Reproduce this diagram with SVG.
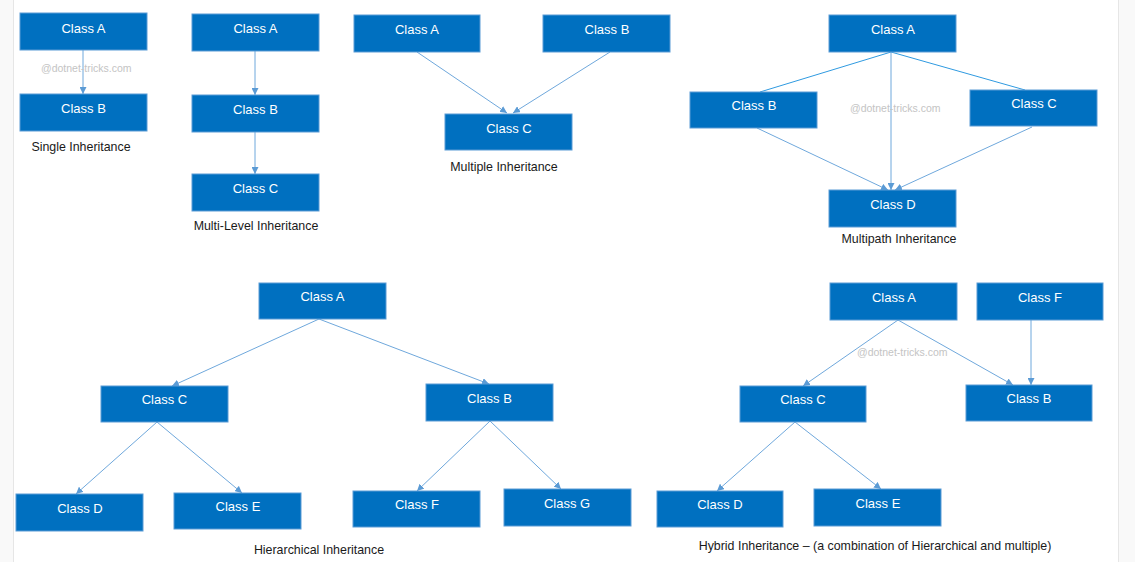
<svg xmlns="http://www.w3.org/2000/svg" width="1135" height="562" viewBox="0 0 1135 562">
<style>
.box{fill:#0070c0;stroke:#5b9bd5;stroke-width:1}
.lbl{font-family:"Liberation Sans",Arial,sans-serif;font-size:13px;fill:#ffffff;text-anchor:middle}
.cap{font-family:"Liberation Sans",Arial,sans-serif;font-size:12.4px;fill:#1a1a1a;text-anchor:middle}
.wm{font-family:"Liberation Sans",Arial,sans-serif;font-size:10.5px;fill:#c4c4c4}
.ln{stroke:#6fa8dc;stroke-width:1;fill:none;marker-end:url(#ah)}
.ln2{stroke:#2f9ae0;stroke-width:1;fill:none}
</style>
<defs>
<marker id="ah" viewBox="0 0 10 10" refX="10" refY="5" markerWidth="7" markerHeight="7" markerUnits="userSpaceOnUse" orient="auto">
<path d="M0,0 L10,5 L0,10 z" fill="#5b9bd5"/>
</marker>
</defs>
<rect x="0" y="0" width="1135" height="562" fill="#ffffff"/>
<rect x="0" y="0" width="13" height="562" fill="#f9f9f9"/>
<rect x="1118" y="0" width="17" height="562" fill="#f9f9f9"/>
<line x1="13.5" y1="0" x2="13.5" y2="562" stroke="#e6e6e6"/>
<line x1="1118.5" y1="0" x2="1118.5" y2="562" stroke="#e6e6e6"/>

<g id="connectors">
<line class="ln" x1="83" y1="50" x2="83" y2="94"/>
<line class="ln" x1="255" y1="51" x2="255" y2="95"/>
<line class="ln" x1="255" y1="132" x2="255" y2="174"/>
<line class="ln" x1="417" y1="52" x2="507" y2="113"/>
<line class="ln" x1="610" y1="52" x2="513" y2="113"/>
<line class="ln2" x1="891" y1="52" x2="760" y2="92"/>
<line class="ln2" x1="891" y1="52" x2="1025" y2="90"/>
<line class="ln" x1="891" y1="52" x2="891" y2="190"/>
<line class="ln" x1="757" y1="128" x2="888" y2="190"/>
<line class="ln" x1="1032" y1="127" x2="895" y2="190"/>
<line class="ln" x1="319" y1="319" x2="172" y2="386"/>
<line class="ln" x1="319" y1="319" x2="489" y2="384"/>
<line class="ln" x1="157" y1="422" x2="76" y2="494"/>
<line class="ln" x1="157" y1="422" x2="242" y2="493"/>
<line class="ln" x1="490" y1="421" x2="417" y2="491"/>
<line class="ln" x1="490" y1="421" x2="561" y2="489"/>
<line class="ln" x1="898" y1="320" x2="803" y2="386"/>
<line class="ln" x1="898" y1="320" x2="1013" y2="385"/>
<line class="ln" x1="1031" y1="320" x2="1031" y2="385"/>
<line class="ln" x1="795" y1="422" x2="717" y2="491"/>
<line class="ln" x1="795" y1="422" x2="881" y2="489"/>
</g>

<g id="single-A"><rect class="box" x="20" y="13" width="127" height="37"/><text class="lbl" x="83.5" y="33">Class A</text></g>
<g id="single-B"><rect class="box" x="20" y="94" width="127" height="37"/><text class="lbl" x="83.5" y="113">Class B</text></g>
<text class="wm" x="41" y="72">@dotnet-tricks.com</text>
<text class="cap" x="81" y="151">Single Inheritance</text>

<g id="multilevel-A"><rect class="box" x="192" y="14" width="127" height="37"/><text class="lbl" x="255.5" y="33">Class A</text></g>
<g id="multilevel-B"><rect class="box" x="192" y="95" width="127" height="37"/><text class="lbl" x="255.5" y="114">Class B</text></g>
<g id="multilevel-C"><rect class="box" x="192" y="174" width="127" height="37"/><text class="lbl" x="255.5" y="193">Class C</text></g>
<text class="cap" x="256" y="230">Multi-Level Inheritance</text>

<g id="multiple-A"><rect class="box" x="354" y="15" width="126" height="37"/><text class="lbl" x="417" y="34">Class A</text></g>
<g id="multiple-B"><rect class="box" x="543" y="15" width="127" height="37"/><text class="lbl" x="607" y="34">Class B</text></g>
<g id="multiple-C"><rect class="box" x="445" y="114" width="127" height="36"/><text class="lbl" x="509" y="133">Class C</text></g>
<text class="cap" x="504" y="171">Multiple Inheritance</text>

<g id="multipath-A"><rect class="box" x="829" y="15" width="127" height="37"/><text class="lbl" x="893" y="34">Class A</text></g>
<g id="multipath-B"><rect class="box" x="690" y="92" width="127" height="36"/><text class="lbl" x="754" y="110">Class B</text></g>
<g id="multipath-C"><rect class="box" x="970" y="90" width="127" height="36"/><text class="lbl" x="1034" y="108">Class C</text></g>
<g id="multipath-D"><rect class="box" x="829" y="190" width="127" height="37"/><text class="lbl" x="893" y="209">Class D</text></g>
<text class="wm" x="850" y="112">@dotnet-tricks.com</text>
<text class="cap" x="899" y="243">Multipath Inheritance</text>

<g id="hier-A"><rect class="box" x="259" y="283" width="127" height="36"/><text class="lbl" x="322.5" y="301">Class A</text></g>
<g id="hier-C"><rect class="box" x="101" y="386" width="127" height="36"/><text class="lbl" x="164.5" y="404">Class C</text></g>
<g id="hier-B"><rect class="box" x="426" y="384" width="127" height="37"/><text class="lbl" x="489.5" y="403">Class B</text></g>
<g id="hier-D"><rect class="box" x="16" y="494" width="127" height="37"/><text class="lbl" x="80" y="513">Class D</text></g>
<g id="hier-E"><rect class="box" x="174" y="493" width="127" height="36"/><text class="lbl" x="238" y="511">Class E</text></g>
<g id="hier-F"><rect class="box" x="353" y="491" width="127" height="36"/><text class="lbl" x="417" y="509">Class F</text></g>
<g id="hier-G"><rect class="box" x="504" y="489" width="127" height="37"/><text class="lbl" x="567" y="508">Class G</text></g>
<text class="cap" x="319" y="554">Hierarchical Inheritance</text>

<g id="hybrid-A"><rect class="box" x="830" y="283" width="127" height="37"/><text class="lbl" x="894" y="302">Class A</text></g>
<g id="hybrid-F"><rect class="box" x="977" y="283" width="126" height="37"/><text class="lbl" x="1040" y="302">Class F</text></g>
<g id="hybrid-C"><rect class="box" x="740" y="386" width="126" height="36"/><text class="lbl" x="803" y="404">Class C</text></g>
<g id="hybrid-B"><rect class="box" x="966" y="385" width="126" height="36"/><text class="lbl" x="1029" y="403">Class B</text></g>
<g id="hybrid-D"><rect class="box" x="657" y="491" width="126" height="36"/><text class="lbl" x="720" y="509">Class D</text></g>
<g id="hybrid-E"><rect class="box" x="814" y="489" width="127" height="37"/><text class="lbl" x="878" y="508">Class E</text></g>
<text class="wm" x="857" y="356">@dotnet-tricks.com</text>
<text class="cap" x="875" y="550">Hybrid Inheritance – (a combination of Hierarchical and multiple)</text>
</svg>
